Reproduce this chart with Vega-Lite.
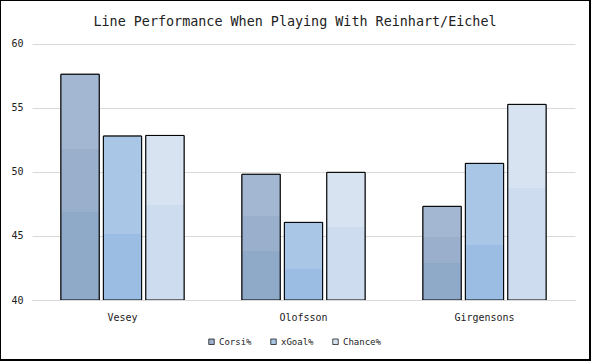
{
  "$schema": "https://vega.github.io/schema/vega-lite/v6.json",
  "width": 590,
  "height": 360,
  "autosize": {"type": "none"},
  "padding": {"left": 0, "top": 0, "right": 1, "bottom": 1},
  "background": "white",
  "config": {
    "view": {"stroke": "black", "strokeWidth": 2},
    "font": "DejaVu Sans Mono"
  },
  "title": {
    "text": "Line Performance When Playing With Reinhart/Eichel",
    "font": "DejaVu Sans Mono",
    "fontSize": 13.4,
    "fontWeight": "normal",
    "color": "#222222",
    "anchor": "middle",
    "frame": "group",
    "baseline": "alphabetic",
    "offset": -39
  },
  "data": {
    "values": [
      {"player": "Vesey", "metric": "Corsi%", "value": 57.6},
      {"player": "Vesey", "metric": "xGoal%", "value": 52.78},
      {"player": "Vesey", "metric": "Chance%", "value": 52.83},
      {"player": "Olofsson", "metric": "Corsi%", "value": 49.8},
      {"player": "Olofsson", "metric": "xGoal%", "value": 46.05},
      {"player": "Olofsson", "metric": "Chance%", "value": 49.95},
      {"player": "Girgensons", "metric": "Corsi%", "value": 47.3},
      {"player": "Girgensons", "metric": "xGoal%", "value": 50.65},
      {"player": "Girgensons", "metric": "Chance%", "value": 55.25}
    ]
  },
  "encoding": {
    "x": {
      "field": "player",
      "type": "nominal",
      "sort": ["Vesey", "Olofsson", "Girgensons"],
      "scale": {"domain": ["Vesey", "Olofsson", "Girgensons"], "range": [32, 575], "paddingInner": 0.32, "paddingOuter": 0.16},
      "axis": {
        "title": null,
        "orient": "bottom",
        "offset": -60,
        "labelAngle": 0,
        "ticks": false,
        "domain": true,
        "domainColor": "#d9d9d9",
        "domainWidth": 1,
        "grid": false,
        "labelFont": "DejaVu Sans Mono",
        "labelFontSize": 10,
        "labelColor": "#222222",
        "labelBaseline": "alphabetic",
        "labelPadding": 20,
        "zindex": 1
      }
    },
    "xOffset": {
      "field": "metric",
      "type": "nominal",
      "scale": {"domain": ["Corsi%", "xGoal%", "Chance%"], "paddingInner": 0.1, "paddingOuter": 0}
    },
    "y": {
      "field": "value",
      "type": "quantitative",
      "scale": {"domain": [40, 60], "range": [300, 43.5], "zero": false, "nice": false},
      "axis": {
        "title": null,
        "orient": "left",
        "offset": -32,
        "values": [40, 45, 50, 55, 60],
        "ticks": false,
        "domain": false,
        "grid": true,
        "gridColor": "#d9d9d9",
        "gridWidth": 1,
        "labelFont": "DejaVu Sans Mono",
        "labelFontSize": 10,
        "labelColor": "#222222",
        "labelPadding": 9,
        "zindex": 0
      }
    },
    "y2": {"datum": 40}
  },
  "layer": [
    {
      "mark": {"type": "bar", "stroke": "black", "strokeWidth": 1},
      "encoding": {
        "color": {
          "field": "metric",
          "type": "nominal",
          "scale": {"domain": ["Corsi%", "xGoal%", "Chance%"], "range": ["#9cb1cd", "#a9c5e6", "#d7e3f1"]},
          "legend": {
            "title": null,
            "orient": "none",
            "legendX": 207,
            "legendY": 337,
            "direction": "horizontal",
            "symbolType": "square",
            "symbolSize": 30,
            "symbolStrokeColor": "black",
            "symbolStrokeWidth": 0.7,
            "symbolOpacity": 1,
            "labelFont": "DejaVu Sans Mono",
            "labelFontSize": 9,
            "labelColor": "#222222",
            "labelOffset": 3,
            "columnPadding": 17
          }
        }
      }
    },
    {
      "transform": [{"filter": "datum.metric === 'Corsi%'"}],
      "mark": {
        "type": "bar", "stroke": "black", "strokeWidth": 1,
        "fill": {"gradient": "linear", "x1": 0, "y1": 1, "x2": 0, "y2": 0,
          "stops": [
            {"offset": 0, "color": "#8fa9c9"}, {"offset": 0.39, "color": "#8fa9c9"},
            {"offset": 0.39, "color": "#9aafcc"}, {"offset": 0.67, "color": "#9aafcc"},
            {"offset": 0.67, "color": "#a3b7d2"}, {"offset": 1, "color": "#a3b7d2"}
          ]}
      }
    },
    {
      "transform": [{"filter": "datum.metric === 'xGoal%'"}],
      "mark": {
        "type": "bar", "stroke": "black", "strokeWidth": 1,
        "fill": {"gradient": "linear", "x1": 0, "y1": 1, "x2": 0, "y2": 0,
          "stops": [
            {"offset": 0, "color": "#9bbde4"}, {"offset": 0.4, "color": "#9bbde4"},
            {"offset": 0.4, "color": "#aac6e7"}, {"offset": 1, "color": "#aac6e7"}
          ]}
      }
    },
    {
      "transform": [{"filter": "datum.metric === 'Chance%'"}],
      "mark": {
        "type": "bar", "stroke": "black", "strokeWidth": 1,
        "fill": {"gradient": "linear", "x1": 0, "y1": 1, "x2": 0, "y2": 0,
          "stops": [
            {"offset": 0, "color": "#cddcee"}, {"offset": 0.575, "color": "#cddcee"},
            {"offset": 0.575, "color": "#d7e3f1"}, {"offset": 1, "color": "#d7e3f1"}
          ]}
      }
    }
  ]
}
